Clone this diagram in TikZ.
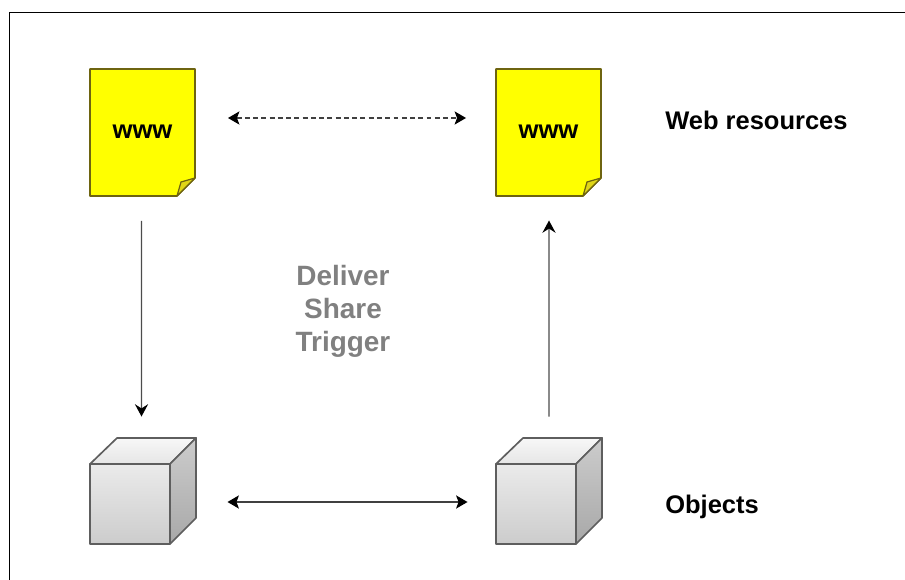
\documentclass[tikz,border=0pt]{standalone}
\usepackage{fontspec}
\setmainfont{Liberation Sans}
\usepackage{xcolor}
\usetikzlibrary{arrows.meta}
\definecolor{docyellow}{HTML}{FFFF00}
\definecolor{docedge}{HTML}{6E6410}
\definecolor{cubeedge}{HTML}{5E5E5E}
\tikzset{
  docbox/.style={minimum width=2.1cm, minimum height=2.54cm, inner sep=0pt, outer sep=0pt, font=\fontsize{14.6}{16}\selectfont\bfseries},
  cubebox/.style={minimum width=2.14cm, minimum height=2.14cm, inner sep=0pt, outer sep=0pt},
  rowlabel/.style={anchor=west, inner sep=0pt, font=\fontsize{14.5}{17}\selectfont\bfseries},
  link/.style={line width=0.7pt, draw=black!75, {Stealth[length=6.5pt, width=7.5pt, inset=1.4pt, black]}-{Stealth[length=6.5pt, width=7.5pt, inset=1.4pt, black]}},
  linkup/.style={line width=0.7pt, draw=black!70, -{Stealth[length=7pt, width=7.5pt, inset=2.4pt, black]}},
  cubeline/.style={draw=cubeedge, line width=0.95pt, line join=round}
}

\begin{document}
\begin{tikzpicture}[x=0.02cm, y=-0.02cm]
   \useasboundingbox (0,0) rectangle (905,580);
   \draw[line width=1pt] (905,12.5) -- (9.5,12.5) -- (9.5,580);

   % pages
   \foreach \n/\x in {docA/90, docB/496} {
     \draw[docedge, fill=docyellow, line width=0.9pt, line join=round] (\x,69) -- (\x+105,69) -- (\x+105,178) -- (\x+87,196) -- (\x,196) -- cycle;
     \draw[docedge, fill=yellow!70!olive!90, line width=0.7pt, line join=round] (\x+105,178) -- (\x+91,182) -- (\x+87,196) -- cycle;
     \node[docbox] (\n) at (\x+52.5,132) {www};
   }

   % cubes
   \foreach \n/\x in {cubeA/90, cubeB/496} {
     \shadedraw[cubeline, top color=black!3, bottom color=black!10] (\x,464) -- (\x+27,438) -- (\x+106,438) -- (\x+80,464) -- cycle;
     \shadedraw[cubeline, top color=black!20, bottom color=black!34] (\x+80,464) -- (\x+106,438) -- (\x+106,518) -- (\x+80,544) -- cycle;
     \shadedraw[cubeline, top color=black!8, bottom color=black!20] (\x,464) rectangle (\x+80,544);
     \node[cubebox] (\n) at (\x+53,491) {};
   }

   \draw[link, dash pattern=on 2.8pt off 1.9pt] ([shift={(33,-14)}]docA.east) -- ([shift={(-30,-14)}]docB.west);
   \draw[link] ([shift={(31,11)}]cubeA.east) -- ([shift={(-28,11)}]cubeB.west);
   \draw[linkup] ([shift={(-1,25.5)}]docA.south) -- ([shift={(-1.5,-21)}]cubeA.north);
   \draw[linkup] ([shift={(0,-21)}]cubeB.north) -- ([shift={(0.5,25)}]docB.south);

   \node[rowlabel] (web) at (665,120) {Web resources};
   \node[rowlabel] (obj) at (665,507) {Objects};
   \node[align=center, inner sep=0pt, text=black!50, font=\fontsize{15.9}{18.8}\selectfont\bfseries] (verbs) at (343,311) {Deliver\\Share\\Trigger};
\end{tikzpicture}
\end{document}
